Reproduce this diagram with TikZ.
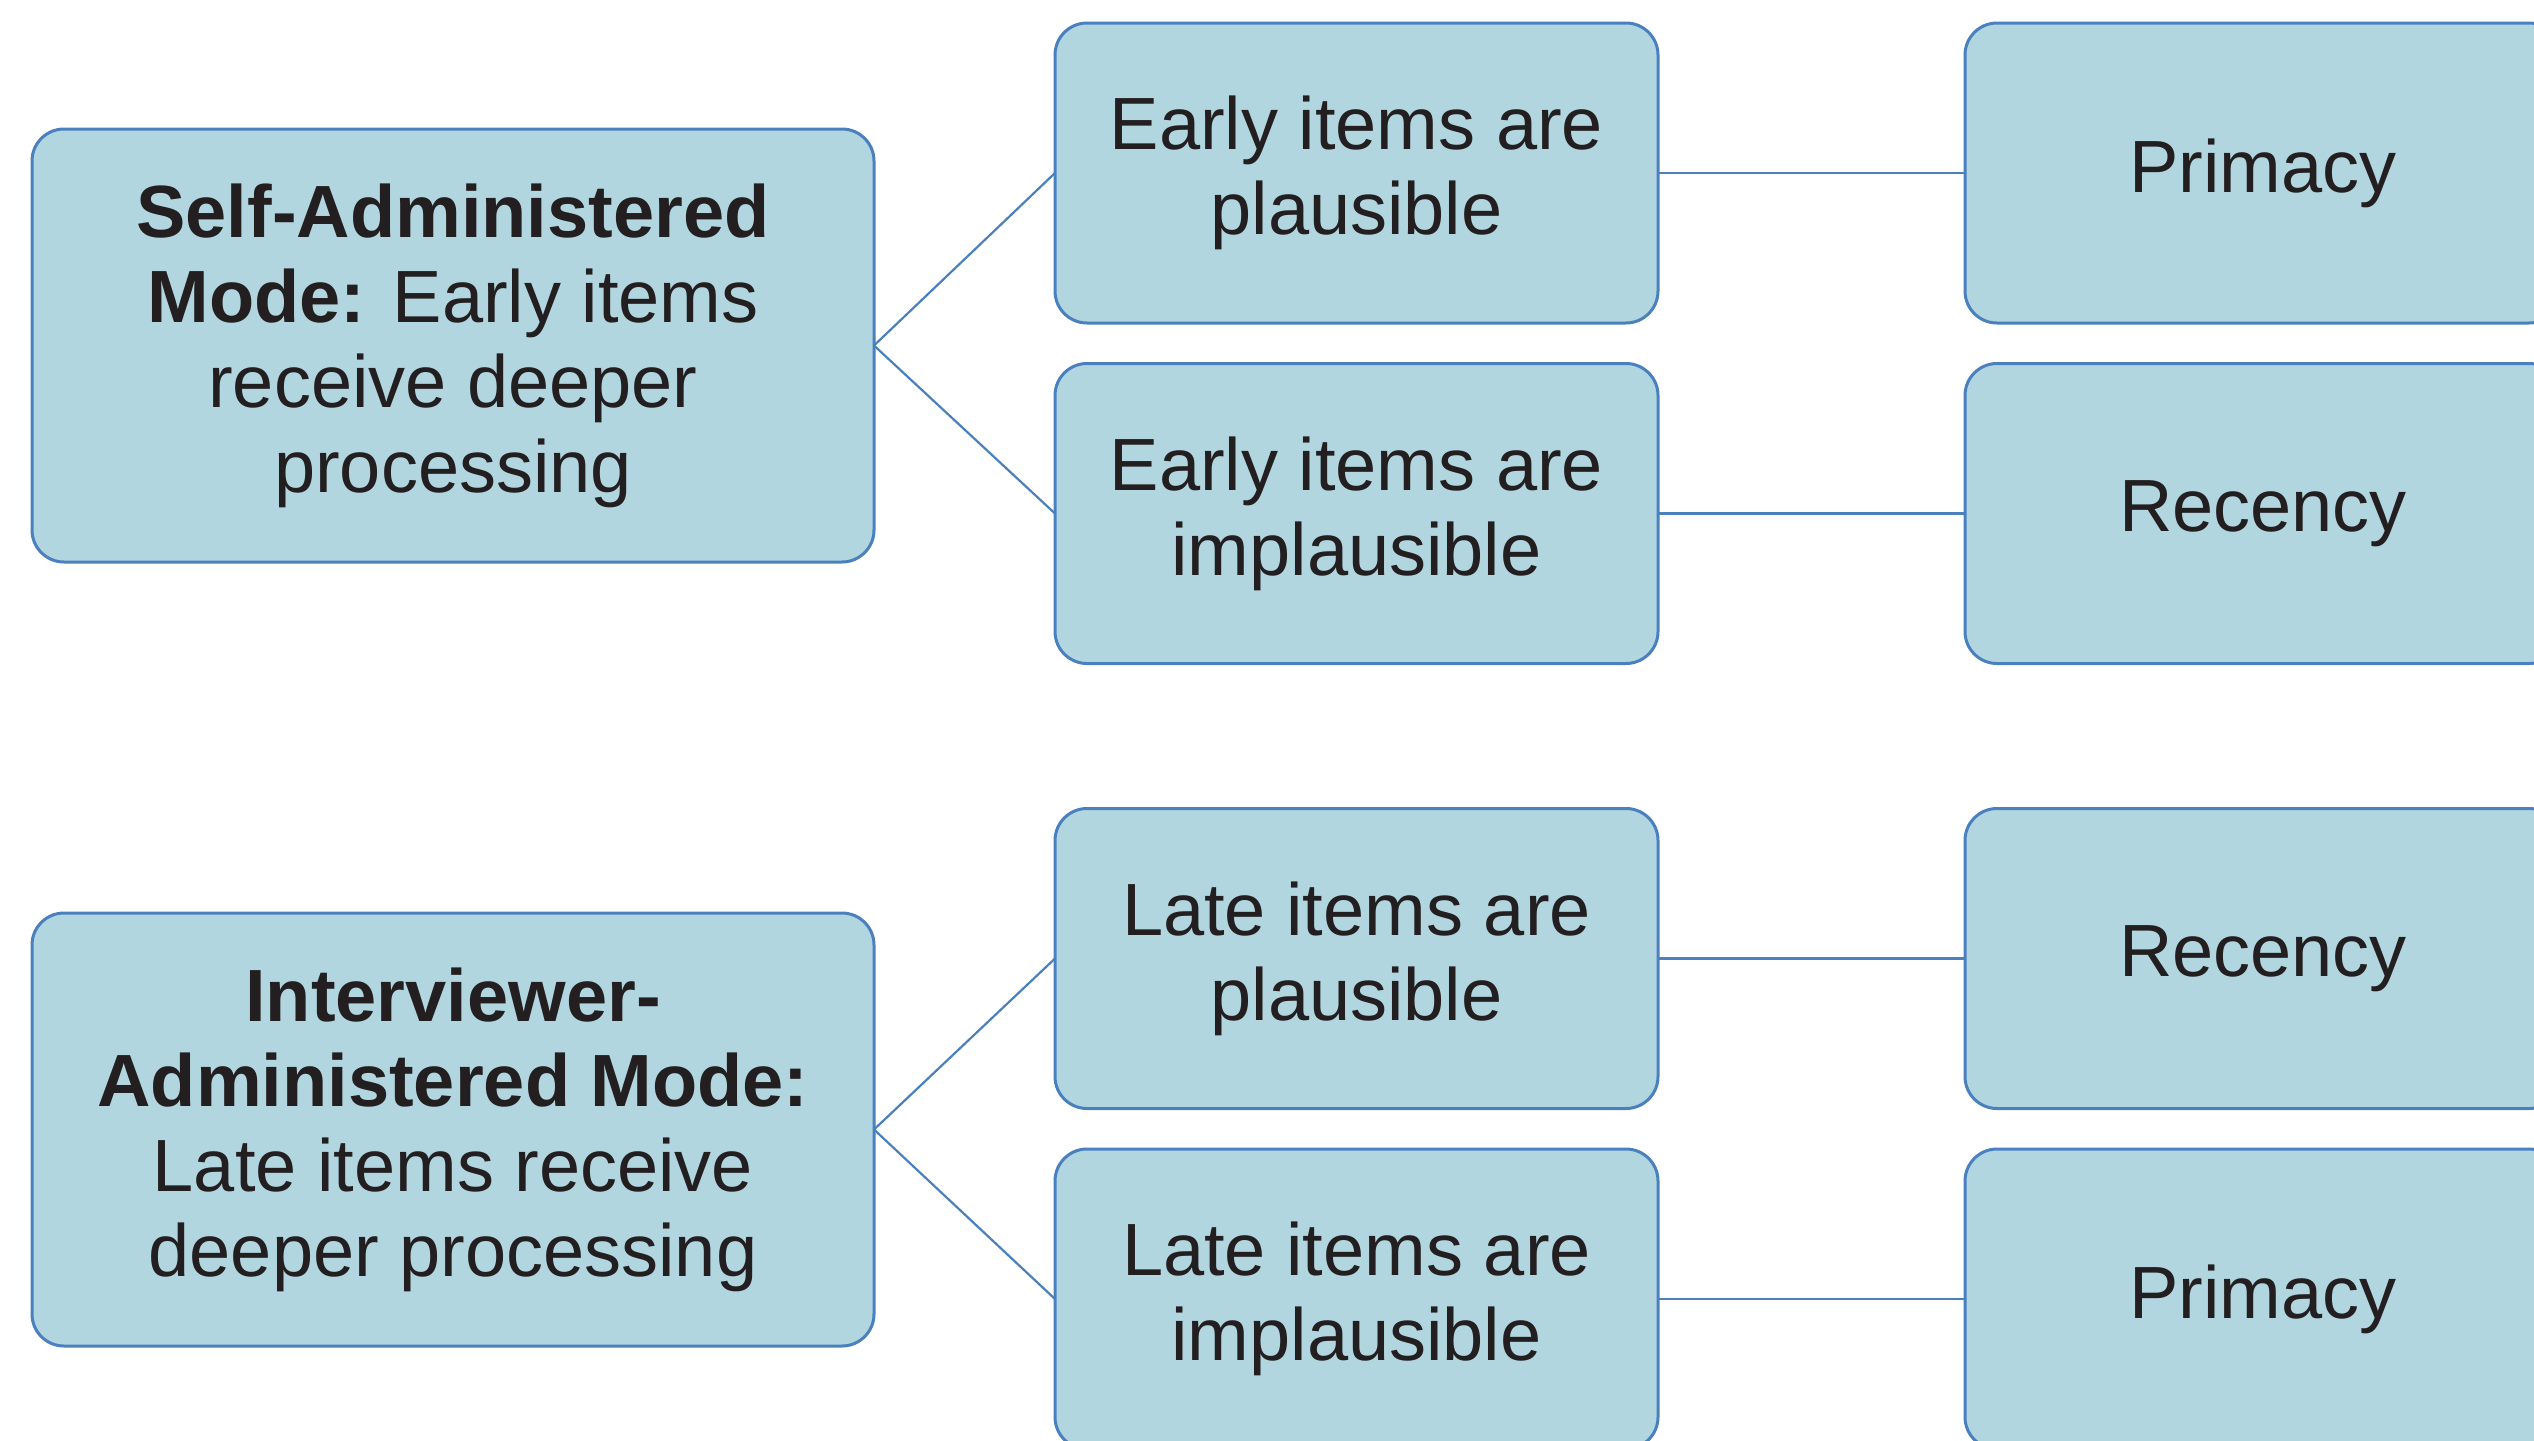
\documentclass[tikz,border=0pt]{standalone}
\usepackage{fontspec}
\setmainfont{Liberation Sans}
\definecolor{boxfill}{RGB}{178,214,224}
\definecolor{boxline}{RGB}{74,128,190}
\definecolor{txt}{RGB}{35,31,32}
\begin{document}
\begin{tikzpicture}[x=0.5pt,y=-0.5pt,
  box/.style={draw=boxline,fill=boxfill,line width=1.5pt,rounded corners=16pt,
    inner sep=0pt,outer sep=0pt,align=center,text=txt,
    font=\fontsize{37}{42.5}\selectfont},
  bigbox/.style={box,minimum width=421pt,minimum height=216.5pt},
  midbox/.style={box,minimum width=301.5pt,minimum height=150pt},
  endbox/.style={box,minimum width=298pt,minimum height=150pt},
  link/.style={draw=boxline,line width=1.1pt}]
\useasboundingbox (0,0) rectangle (2534,1441);
\clip (0,0) rectangle (2534,1441);
\node[bigbox] (L1) at (453,345.5) {\textbf{Self-Administered}\\\textbf{Mode:} Early items\\receive deeper\\processing};
\node[midbox] (M1) at (1356.5,173) {Early items are\\plausible};
\node[midbox] (M2) at (1356.5,513.5) {Early items are\\implausible};
\node[endbox] (R1) at (2263,173) {Primacy};
\node[endbox] (R2) at (2263,513.5) {Recency};
\node[bigbox] (L2) at (453,1129.5) {\textbf{Interviewer-}\\\textbf{Administered Mode:}\\Late items receive\\deeper processing};
\node[midbox] (M3) at (1356.5,958.5) {Late items are\\plausible};
\node[midbox] (M4) at (1356.5,1299) {Late items are\\implausible};
\node[endbox] (R3) at (2263,958.5) {Recency};
\node[endbox] (R4) at (2263,1299) {Primacy};
\draw[link] (L1.east) -- (M1.west);
\draw[link] (L1.east) -- (M2.west);
\draw[link] (M1.east) -- (R1.west);
\draw[link] (M2.east) -- (R2.west);
\draw[link] (L2.east) -- (M3.west);
\draw[link] (L2.east) -- (M4.west);
\draw[link] (M3.east) -- (R3.west);
\draw[link] (M4.east) -- (R4.west);
\end{tikzpicture}
\end{document}
